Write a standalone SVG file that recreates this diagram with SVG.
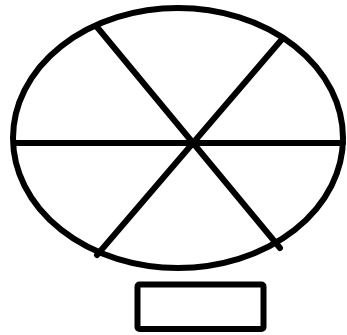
<svg xmlns="http://www.w3.org/2000/svg" width="347" height="335" viewBox="0 0 347 335">
<style>
.s{fill:none;stroke:#000;stroke-width:6;stroke-linecap:round}
</style>
<rect width="347" height="335" fill="#fff"/>
<g id="wheel">
<ellipse class="s" cx="178" cy="138" rx="165" ry="130"/>
</g>
<g id="connectors">
<line class="s" x1="14" y1="143" x2="343" y2="143"/>
<line class="s" x1="97" y1="27" x2="280" y2="248"/>
<line class="s" x1="283" y1="38" x2="97" y2="255"/>
</g>
<g id="box">
<rect class="s" x="137.5" y="284.5" width="126" height="44.5" rx="2" stroke-width="5.5"/>
</g>
</svg>
